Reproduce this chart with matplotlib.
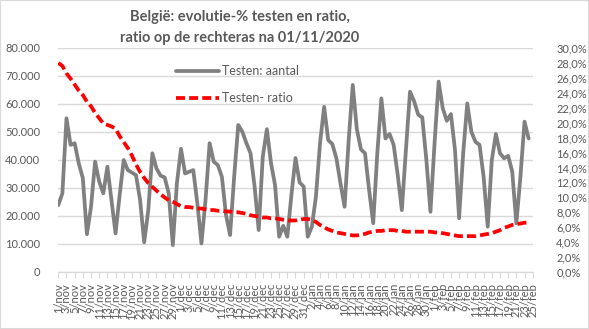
import numpy as np
import pandas as pd
import matplotlib
matplotlib.use('Agg')
import matplotlib.pyplot as plt
from matplotlib.patches import Rectangle
from matplotlib.ticker import FuncFormatter

plt.rcParams['font.family'] = ['Lato', 'DejaVu Sans']

# dagelijkse cijfers vanaf 1/11/2020
testen_aantal = [
    23900, 28100, 54900, 45400, 46000, 38800, 33500, 13500, 23300, 39400,
    32300, 28100, 37600, 25700, 13800, 27500, 40000, 36400, 35500, 34600,
    25700, 10600, 22100, 42400, 37000, 34400, 33800, 28100, 9600, 31700,
    44000, 35200, 35800, 36400, 24500, 10200, 25700, 46000, 39400, 38200,
    34000, 20400, 13200, 34000, 52500, 50100, 46000, 42400, 30500, 15000,
    41200, 51000, 39000, 31000, 12600, 16500, 12600, 27500, 40700, 32000,
    30500, 12600, 16200, 27000, 46000, 59000, 47100, 45700, 40600, 31700,
    23300, 47000, 66800, 51000, 43800, 42400, 29300, 17400, 42400, 62000,
    47700, 49300, 45400, 34600, 22100, 43600, 64400, 61000, 56200, 55200,
    40000, 21500, 46000, 68000, 58500, 54000, 56400, 43600, 19200, 42400,
    60200, 50100, 46500, 45400, 34000, 16200, 40000, 49300, 42400, 40600,
    41500, 35800, 17400, 34000, 53700, 47700,
]

# ratio in %
testen_ratio = [
    28.0, 27.6, 26.6, 25.9, 25.1, 24.3, 23.7, 22.8, 22.2, 21.3,
    20.6, 19.9, 19.7, 19.5, 19.2, 18.2, 17.4, 16.6, 15.6, 14.4,
    13.4, 12.6, 11.9, 11.4, 10.9, 10.4, 10.0, 9.6, 9.4, 9.1,
    8.8, 8.7, 8.7, 8.6, 8.5, 8.5, 8.4, 8.3, 8.3, 8.2,
    8.2, 8.1, 8.1, 8.0, 8.0, 7.9, 7.8, 7.6, 7.5, 7.4,
    7.3, 7.3, 7.2, 7.2, 7.1, 7.0, 6.9, 6.9, 6.9, 7.0,
    7.1, 7.1, 7.0, 6.7, 6.3, 6.0, 5.7, 5.5, 5.3, 5.2,
    5.1, 5.0, 4.9, 4.9, 5.0, 5.1, 5.3, 5.4, 5.5, 5.5,
    5.6, 5.6, 5.6, 5.5, 5.5, 5.4, 5.4, 5.4, 5.4, 5.4,
    5.4, 5.4, 5.3, 5.3, 5.2, 5.1, 5.0, 4.9, 4.8, 4.8,
    4.8, 4.8, 4.8, 4.9, 5.0, 5.1, 5.2, 5.4, 5.6, 5.9,
    6.1, 6.3, 6.4, 6.5, 6.6, 6.6,
]

maanden = {11: 'nov', 12: 'dec', 1: 'jan', 2: 'feb'}
dagen = pd.date_range('2020-11-01', periods=117)
tick_pos = list(range(0, len(dagen), 2))
tick_labels = [f'{dagen[i].day}/{maanden[dagen[i].month]}' for i in tick_pos]

grijs = '#595959'

fig = plt.figure(figsize=(5.89, 3.29), dpi=100)
W, H = 589, 329
ax = fig.add_axes([58.3 / W, 1 - 272 / H, (532.7 - 58.3) / W, 224 / H])

x = np.arange(len(testen_aantal))
l1, = ax.plot(x, testen_aantal, color='#808080', lw=2.7,
              solid_joinstyle='round', solid_capstyle='round', label='Testen: aantal')

ax2 = ax.twinx()
l2, = ax2.plot(x, testen_ratio, color='#ff0000', lw=2.7,
               linestyle=(0, (2.4, 1.1)), label='Testen- ratio')

ax.set_xlim(0, 116)
ax.set_ylim(0, 80000)
ax2.set_ylim(0, 30)
ax.set_yticks(range(0, 80001, 10000))
ax2.set_yticks(np.arange(0, 30.1, 2))
ax.yaxis.set_major_formatter(FuncFormatter(lambda v, p: f'{int(v):,}'.replace(',', '.')))
ax2.yaxis.set_major_formatter(FuncFormatter(lambda v, p: f'{v:.1f}'.replace('.', ',') + '%'))

ax.grid(axis='y', color='#d9d9d9', lw=1)
ax.set_axisbelow(True)
for a in (ax, ax2):
    for s in ('top', 'left', 'right'):
        a.spines[s].set_visible(False)
    a.spines['bottom'].set_color('#d9d9d9')

ax.tick_params(axis='y', length=0, pad=13, labelsize=8, labelcolor=grijs)
ax2.tick_params(axis='y', length=0, pad=17, labelsize=8, labelcolor=grijs)
ax.set_xticks(tick_pos)
ax.set_xticklabels(tick_labels, rotation=90)
ax.tick_params(axis='x', length=4, color='#d9d9d9', pad=4, labelsize=8, labelcolor=grijs)

fig.legend([l1, l2], ['Testen: aantal', 'Testen- ratio'], loc='upper left',
           bbox_to_anchor=(176 / W, 1 - 65 / H), frameon=False, fontsize=9,
           labelcolor=grijs, handlelength=3.4, handletextpad=0.3,
           labelspacing=1.2, borderpad=0, borderaxespad=0)

fig.text(240 / W, 1 - 17 / H, 'België: evolutie-% testen en ratio,', ha='center', va='center',
         fontsize=10.5, weight='bold', color=grijs)
fig.text(240 / W, 1 - 38 / H, 'ratio op de rechteras na 01/11/2020', ha='center', va='center',
         fontsize=10.5, weight='bold', color=grijs)

fig.patches.append(Rectangle((0, 0), 1, 1, transform=fig.transFigure, fill=False,
                             edgecolor='#d9d9d9', lw=1.5))

fig.savefig('out.png', dpi=100)
